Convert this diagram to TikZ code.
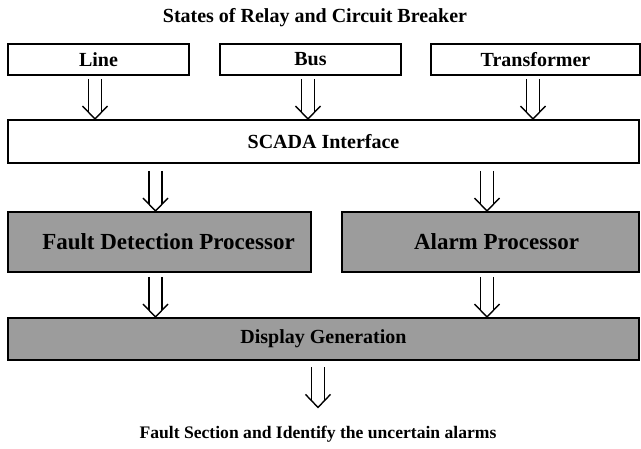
\documentclass[tikz,border=0pt]{standalone}
\usepackage{fontspec}
\setmainfont{Liberation Serif}
\usetikzlibrary{calc}
\definecolor{boxgray}{RGB}{156,156,156}
\tikzset{
  box/.style={draw=black, line width=1.8pt, anchor=north west, inner sep=0pt, outer sep=0pt, font=\fontsize{20}{22}\selectfont\bfseries},
  wbox/.style={box, fill=white},
  gbox/.style={box, fill=boxgray},
  arr/.style={draw=black, line width=1.4pt},
  lbl/.style={anchor=base, inner sep=0pt, font=\fontsize{20}{22}\selectfont\bfseries}
}
\newcommand{\dblarrow}[1]{%
  \coordinate (tip) at #1;
  \draw[arr] ($(tip)+(-6.5,-40)$) -- ($(tip)+(-6.5,-7)$);
  \draw[arr] ($(tip)+(6.5,-40)$) -- ($(tip)+(6.5,-7)$);
  \draw[arr, line join=miter] ($(tip)+(-12.5,-13)$) -- (tip) -- ($(tip)+(12.5,-13)$);
}
\begin{document}
\begin{tikzpicture}[x=1pt,y=-1pt]
\useasboundingbox (0,0) rectangle (641,449);
\fill[white] (0,0) rectangle (641,449);
\node[lbl] (title) at (315,23) {States of Relay and Circuit Breaker};
\node[wbox, minimum width=181, minimum height=31] (line) at (8,44) {Line};
\node[wbox, minimum width=181, minimum height=31] (bus) at (220,44) {Bus};
\node[wbox, minimum width=209, minimum height=31] (trans) at (431,44) {Transformer};
\node[wbox, minimum width=631, minimum height=43] (scada) at (8,120) {SCADA Interface};
\node[gbox, minimum width=303, minimum height=60, font=\fontsize{23}{25}\selectfont\bfseries] (fdp) at (8,212) {\hspace*{18pt}Fault Detection Processor};
\node[gbox, minimum width=297, minimum height=60, font=\fontsize{23}{25}\selectfont\bfseries] (ap) at (342,212) {\hspace*{12pt}Alarm Processor};
\node[gbox, minimum width=631, minimum height=42] (disp) at (8,318) {Display Generation};
\node[lbl, font=\fontsize{17.6}{20}\selectfont\bfseries] (out) at (318,439) {Fault Section and Identify the uncertain alarms};
\dblarrow{($(95,0 |- scada.north)+(0,-1)$)}
\dblarrow{($(308,0 |- scada.north)+(0,-1)$)}
\dblarrow{($(533,0 |- scada.north)+(0,-1)$)}
\dblarrow{($(155.5,0 |- fdp.north)+(0,-1)$)}
\dblarrow{($(487,0 |- ap.north)+(0,-1)$)}
\dblarrow{($(155.5,0 |- disp.north)+(0,-1)$)}
\dblarrow{($(487,0 |- disp.north)+(0,-1)$)}
\dblarrow{($(318,0 |- out.north)+(0,-19)$)}
\end{tikzpicture}
\end{document}
